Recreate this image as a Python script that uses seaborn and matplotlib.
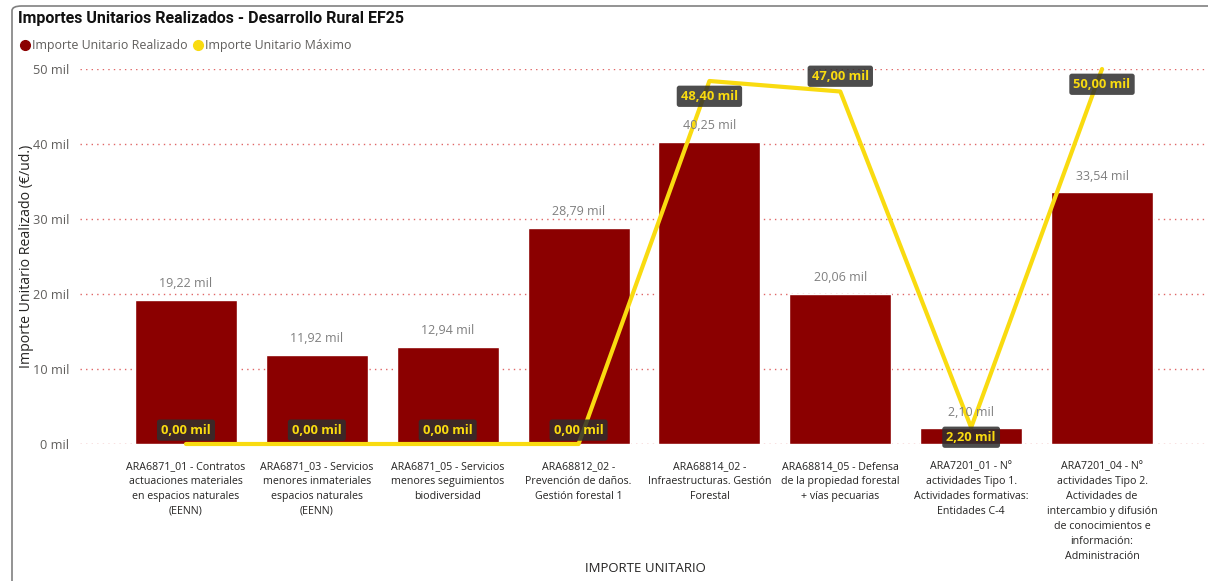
import numpy as np
import pandas as pd
import matplotlib.pyplot as plt
import seaborn as sns
from matplotlib.patches import FancyBboxPatch
from matplotlib.lines import Line2D

# Data (thousands of EUR per unit)
categorias = [
    "ARA6871_01 - Contratos\nactuaciones materiales\nen espacios naturales\n(EENN)",
    "ARA6871_03 - Servicios\nmenores inmateriales\nespacios naturales\n(EENN)",
    "ARA6871_05 - Servicios\nmenores seguimientos\nbiodiversidad",
    "ARA68812_02 -\nPrevención de daños.\nGestión forestal 1",
    "ARA68814_02 -\nInfraestructuras. Gestión\nForestal",
    "ARA68814_05 - Defensa\nde la propiedad forestal\n+ vías pecuarias",
    "ARA7201_01 - Nº\nactividades Tipo 1.\nActividades formativas:\nEntidades C-4",
    "ARA7201_04 - Nº\nactividades Tipo 2.\nActividades de\nintercambio y difusión\nde conocimientos e\ninformación:\nAdministración",
]
realizado = [19.22, 11.92, 12.94, 28.79, 40.25, 20.06, 2.10, 33.54]
maximo = [0.00, 0.00, 0.00, 0.00, 48.40, 47.00, 2.20, 50.00]
series = ["Importe Unitario Realizado", "Importe Unitario Máximo"]

df = pd.DataFrame({"cat": categorias, "realizado": realizado, "maximo": maximo})
df["pos"] = np.arange(len(df))

BAR = "#8B0000"
YEL = "#F9DB10"
GREY = "#605E5C"

sns.set_style("white")
plt.rcParams["font.family"] = ["Open Sans", "DejaVu Sans"]

W, H = 1208, 581
fig = plt.figure(figsize=(W / 100, H / 100), dpi=100)
ax = fig.add_axes([80 / W, 137 / H, 1 - 80 / W, 375 / H])

sns.barplot(data=df, x="cat", y="realizado", color=BAR, width=0.78,
            saturation=1, ax=ax, zorder=2)
sns.lineplot(data=df, x="pos", y="maximo", color=YEL, lw=3, ax=ax,
             zorder=3, clip_on=False)

ax.set_xlim(-0.81, len(df) - 0.19)
ax.set_ylim(0, 50)
ax.set_yticks([0, 10, 20, 30, 40, 50])
ax.set_yticklabels([f"{t} mil" for t in [0, 10, 20, 30, 40, 50]],
                   color=GREY, fontsize=9.2)
ax.yaxis.grid(True, linestyle=(0, (1, 3)), color="#E06666", lw=1)
ax.set_axisbelow(True)
for s in ax.spines.values():
    s.set_visible(False)
ax.tick_params(axis="both", length=0)
ax.tick_params(axis="y", pad=8)
ax.set_xticks(df["pos"])
ax.set_xticklabels(df["cat"], fontsize=7.7, color="#252423",
                   linespacing=1.5, va="top")
ax.tick_params(axis="x", pad=12)
ax.set_xlabel("")
ax.set_ylabel("Importe Unitario Realizado (€/ud.)", fontsize=10.2,
              color="#252423")
ax.yaxis.set_label_coords(-46 / 1128, 0.5)
fig.text(645 / W, 1 - 569 / H, "IMPORTE UNITARIO", fontsize=9.5,
         color="#252423", ha="center", va="center")

# bar labels
for p, v in zip(df["pos"], df["realizado"]):
    ax.annotate(f"{v:.2f} mil".replace(".", ","), (p, v), xytext=(0, 7),
                textcoords="offset points", ha="center", va="bottom",
                fontsize=9, color="#7F7F7F")

# line data labels (offset in points)
offsets = [10, 10, 10, 10, -11, 11, -7, -11]
for p, v, dy in zip(df["pos"], df["maximo"], offsets):
    ax.annotate(f"{v:.2f} mil".replace(".", ","), (p, v), xytext=(0, dy),
                textcoords="offset points", ha="center", va="center",
                fontsize=9.3, fontweight="bold", color=YEL, zorder=5,
                annotation_clip=False,
                bbox=dict(boxstyle="round,pad=0.32,rounding_size=0.2",
                          fc="#2E2E2E", ec="none", alpha=0.85))

fig.text(18 / W, 1 - 18 / H, "Importes Unitarios Realizados - Desarrollo Rural EF25",
         fontsize=11.5, fontweight="bold", family="Roboto", color="#111111",
         va="center", ha="left")

# legend: dot + text, laid out left to right
renderer = fig.canvas.get_renderer()
ly = 1 - 46 / H
x = 20
for name, col in zip(series, [BAR, YEL]):
    fig.add_artist(Line2D([(x + 5) / W], [ly + 1 / H], marker="o", ms=7,
                          color=col, lw=0, transform=fig.transFigure))
    t = fig.text((x + 12) / W, ly, name, color=GREY, fontsize=8.9,
                 va="center")
    x = t.get_window_extent(renderer).x1 + 5

# visual frame
fig.add_artist(FancyBboxPatch((12 / W, -0.05), 1.2, 1.05 - 6 / H,
                              boxstyle="round,pad=0,rounding_size=0.008",
                              transform=fig.transFigure, fc="none",
                              ec="#808080", lw=1.2))

fig.savefig("out.png", dpi=100)
